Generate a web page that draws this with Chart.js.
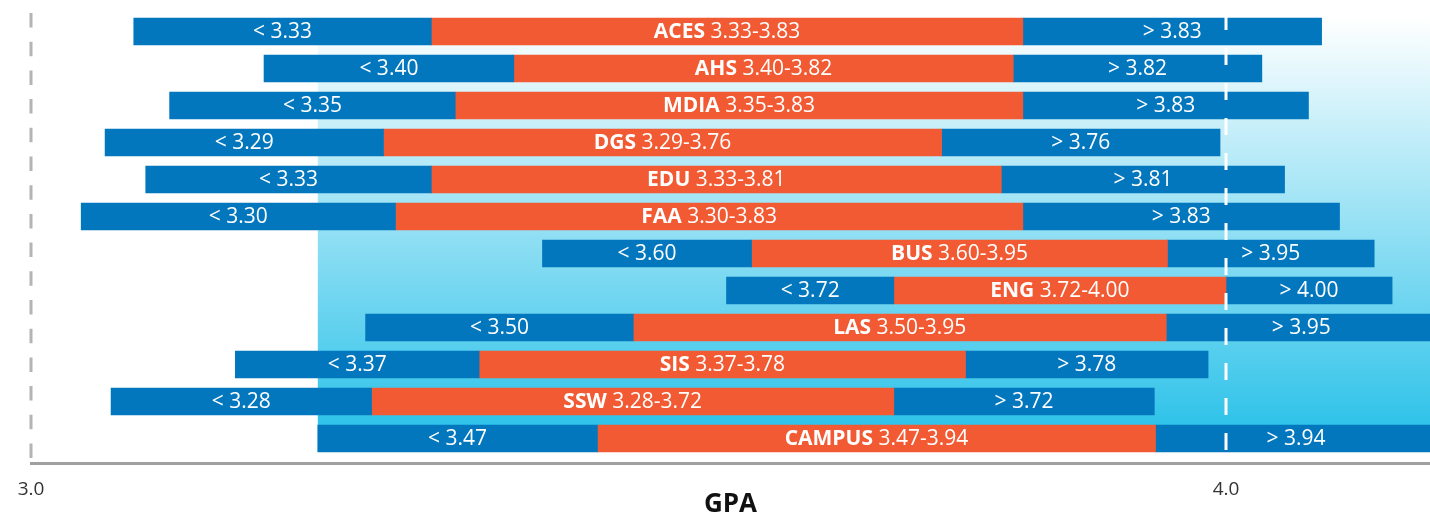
<!DOCTYPE html>
<html><head><meta charset="utf-8">
<script src="https://cdn.jsdelivr.net/npm/chart.js@4.4.1/dist/chart.umd.min.js"></script>
<style>html,body{margin:0;padding:0;background:#fff;overflow:hidden}canvas{display:block}</style>
</head><body><canvas id="c" width="1430" height="516"></canvas>
<script>
const categories = ['ACES','AHS','MDIA','DGS','EDU','FAA','BUS','ENG','LAS','SIS','SSW','CAMPUS'];
const rangeStart = [3.086,3.195,3.116,3.062,3.096,3.042,3.428,3.582,3.280,3.171,3.067,3.240];
const lowValues  = [3.335,3.404,3.355,3.295,3.335,3.305,3.603,3.722,3.504,3.375,3.285,3.474];
const highValues = [3.830,3.822,3.830,3.762,3.812,3.830,3.951,4.000,3.950,3.782,3.722,3.941];
const rangeEnd   = [4.080,4.030,4.069,3.995,4.049,4.095,4.124,4.139,4.176,3.985,3.940,4.176];
const lowLabels  = ['3.33','3.40','3.35','3.29','3.33','3.30','3.60','3.72','3.50','3.37','3.28','3.47'];
const highLabels = ['3.83','3.82','3.83','3.76','3.81','3.83','3.95','4.00','3.95','3.78','3.72','3.94'];
const tickValues = [3.0, 4.0];
const tickLabels = ['3.0', '4.0'];
const axisTitle = 'GPA';

const BLUE = '#0277BE', ORANGE = '#F15A32';
const FONT = '"Open Sans", "Noto Sans", sans-serif';
const N = categories.length;

const mk = (a, b) => categories.map((c, i) => ({ x: [a[i], b[i]], y: i }));

const decor = {
  id: 'decor',
  beforeDatasetsDraw(chart) {
    const { ctx, chartArea, scales: { x } } = chart;
    const meta = chart.getDatasetMeta(0);
    const first = meta.data[0], last = meta.data[N - 1];
    const top = first.y - first.height / 2, bottom = last.y + last.height / 2;
    const left = x.getPixelForValue(rangeStart[N - 1]);
    const g = ctx.createLinearGradient(0, top, 0, bottom);
    g.addColorStop(0, '#ffffff');
    g.addColorStop(1, '#22BFE8');
    ctx.save();
    ctx.fillStyle = g;
    ctx.fillRect(left, top, chartArea.right - left, bottom - top);
    const x3 = x.getPixelForValue(tickValues[0]);
    ctx.strokeStyle = '#b4b4b4';
    ctx.lineWidth = 3;
    ctx.setLineDash([14.5, 14.2]);
    ctx.beginPath();
    ctx.moveTo(x3, chartArea.top);
    ctx.lineTo(x3, chartArea.bottom);
    ctx.stroke();
    ctx.restore();
  },
  afterDatasetsDraw(chart) {
    const { ctx, chartArea, scales: { x } } = chart;
    ctx.save();
    const x4 = x.getPixelForValue(tickValues[1]);
    ctx.strokeStyle = '#ffffff';
    ctx.lineWidth = 3;
    ctx.setLineDash([17, 18]);
    ctx.beginPath();
    ctx.moveTo(x4, chartArea.top);
    ctx.lineTo(x4, chartArea.bottom);
    ctx.stroke();
    ctx.setLineDash([]);

    const m0 = chart.getDatasetMeta(0), m1 = chart.getDatasetMeta(1), m2 = chart.getDatasetMeta(2);
    ctx.fillStyle = '#ffffff';
    ctx.textBaseline = 'middle';
    const normal = '21px ' + FONT, bold = 'bold 21px ' + FONT;
    for (let i = 0; i < N; i++) {
      const l = m0.data[i], c = m1.data[i], r = m2.data[i];
      const y = l.y + 1;
      ctx.font = normal;
      ctx.textAlign = 'center';
      ctx.fillText('< ' + lowLabels[i], (l.x + l.base) / 2, y);
      ctx.fillText('> ' + highLabels[i], (r.x + r.base) / 2, y);
      const b = categories[i];
      const rest = ' ' + lowLabels[i] + '-' + highLabels[i];
      ctx.font = bold;
      const wb = ctx.measureText(b).width;
      ctx.font = normal;
      const wr = ctx.measureText(rest).width;
      const cx = (c.x + c.base) / 2;
      const sx = cx - (wb + wr) / 2;
      ctx.textAlign = 'left';
      ctx.font = bold;
      ctx.fillText(b, sx, y);
      ctx.font = normal;
      ctx.fillText(rest, sx + wb, y);
    }
    ctx.restore();
  },
  afterDraw(chart) {
    const { ctx, chartArea } = chart;
    ctx.save();
    ctx.fillStyle = '#111111';
    ctx.font = 'bold 26px ' + FONT;
    ctx.textAlign = 'center';
    ctx.textBaseline = 'alphabetic';
    ctx.fillText(axisTitle, (chartArea.left + chartArea.right) / 2, chart.height - 4.5);
    ctx.restore();
  }
};

new Chart(document.getElementById('c'), {
  type: 'bar',
  data: {
    datasets: [
      { data: mk(rangeStart, lowValues), backgroundColor: BLUE },
      { data: mk(lowValues, highValues), backgroundColor: ORANGE },
      { data: mk(highValues, rangeEnd), backgroundColor: BLUE }
    ]
  },
  options: {
    indexAxis: 'y',
    responsive: false,
    maintainAspectRatio: false,
    animation: false,
    events: [],
    layout: { padding: { left: 31, top: 13, right: 0, bottom: 0.2 } },
    plugins: { legend: { display: false }, tooltip: { enabled: false } },
    datasets: { bar: { grouped: false, barThickness: 27, borderWidth: 0, borderSkipped: false } },
    scales: {
      x: {
        type: 'linear', min: 3.0, max: 4.1707, bounds: 'data', offset: false,
        afterBuildTicks: s => { s.ticks = tickValues.map(v => ({ value: v })); },
        ticks: {
          callback: (v, i) => tickLabels[i],
          color: '#333333', font: { family: FONT, size: 19 }, padding: 15,
          autoSkip: false, maxRotation: 0
        },
        grid: { display: false, drawTicks: false, offset: false },
        border: { display: true, color: '#a0a0a0', width: 3 }
      },
      y: { type: 'linear', reverse: true, min: -0.5, max: 11.662, display: false, offset: false, grid: { offset: false } }
    }
  },
  plugins: [decor]
});
</script>
</body></html>
